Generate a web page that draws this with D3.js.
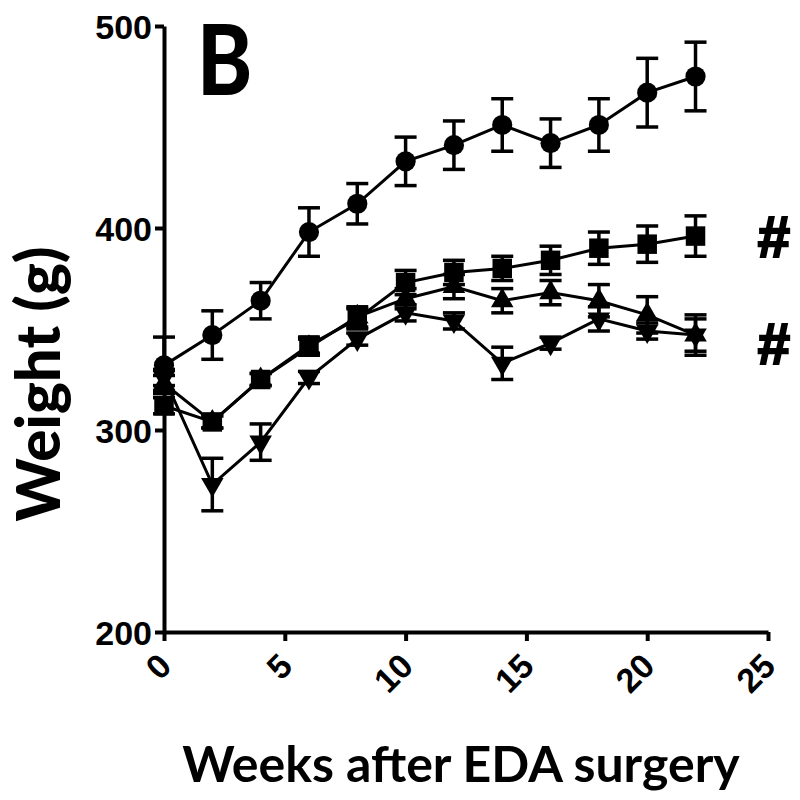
<!DOCTYPE html>
<html><head><meta charset="utf-8">
<script src="https://cdn.jsdelivr.net/npm/d3@7"></script>
<style>html,body{margin:0;padding:0;background:#fff}</style>
</head><body>
<svg id="chart" width="800" height="800"></svg>
<script>
const weeks = [0, 2, 4, 6, 8, 10, 12, 14, 16, 18, 20, 22];
const circleMean = [332, 347, 364, 398, 412, 433, 441, 451, 442, 451, 467, 475];
const circleSem  = [14, 12, 9, 12, 10, 12, 12, 13, 12, 13, 17, 17];
const squareMean = [312, 304, 325, 342, 355, 373, 378, 380, 384, 390, 392, 396];
const squareSem  = [4, 3, 3, 4, 5, 6, 6, 6, 7, 8, 9, 10];
const triUpMean  = [323, 304, 325, 341, 356, 365, 371, 364, 368, 364, 357, 347];
const triUpSem   = [4, 3, 3, 4, 5, 5, 6, 6, 6, 8, 9, 10];
const triDnMean  = [326, 273, 294, 326, 345, 358, 354, 333, 343, 355, 349, 347];
const triDnSem   = [4, 13, 9, 3, 3, 4, 4, 8, 3, 6, 4, 8];
const xTicks = [0, 5, 10, 15, 20, 25];
const yTicks = [200, 300, 400, 500];
const sigMarks = [{label: "#", y: 396}, {label: "#", y: 343}];

const series = [
  {mean: circleMean, sem: circleSem, symbol: d3.symbolCircle, size: 320},
  {mean: squareMean, sem: squareSem, symbol: d3.symbolSquare, size: 380},
  {mean: triUpMean, sem: triUpSem, symbol: d3.symbolTriangle, size: 220, rot: 0},
  {mean: triDnMean, sem: triDnSem, symbol: d3.symbolTriangle, size: 220, rot: 180}
];

const svg = d3.select("#chart");
const x = d3.scaleLinear().domain([0, 25]).range([164, 768]);
const y = d3.scaleLinear().domain([200, 500]).range([632, 26]);

// axes
const xAxis = svg.append("g").attr("transform", `translate(0,${y(200)})`)
  .call(d3.axisBottom(x).tickValues(xTicks).tickSize(9).tickSizeOuter(0));
const yAxis = svg.append("g").attr("transform", `translate(${x(0)},0)`)
  .call(d3.axisLeft(y).tickValues(yTicks).tickSize(9).tickSizeOuter(0));
[xAxis, yAxis].forEach(g => {
  g.select(".domain").attr("stroke", "#000").attr("stroke-width", 4);
  g.selectAll(".tick line").attr("stroke", "#000").attr("stroke-width", 4);
  g.selectAll("text").attr("font-family", "'Liberation Sans', Arial, sans-serif")
    .attr("font-weight", "bold").attr("font-size", 34).attr("fill", "#000");
});
yAxis.selectAll("text").attr("x", -12).attr("dy", "0.36em");
xAxis.selectAll("text")
  .attr("text-anchor", "end").attr("dy", 0).attr("y", 0)
  .attr("transform", "translate(9,36) rotate(-45)");

// series
series.forEach(s => {
  const pts = weeks.map((w, i) => ({x: w, m: s.mean[i], e: s.sem[i]}));
  const g = svg.append("g");
  const eb = g.selectAll(".eb").data(pts).enter().append("g");
  eb.append("line").attr("x1", d => x(d.x)).attr("x2", d => x(d.x))
    .attr("y1", d => y(d.m + d.e)).attr("y2", d => y(d.m - d.e))
    .attr("stroke", "#000").attr("stroke-width", 3.5);
  [1, -1].forEach(sg => {
    eb.append("line").attr("x1", d => x(d.x) - 11).attr("x2", d => x(d.x) + 11)
      .attr("y1", d => y(d.m + sg * d.e)).attr("y2", d => y(d.m + sg * d.e))
      .attr("stroke", "#000").attr("stroke-width", 3.5);
  });
  g.append("path").datum(pts)
    .attr("d", d3.line().x(d => x(d.x)).y(d => y(d.m)))
    .attr("fill", "none").attr("stroke", "#000").attr("stroke-width", 3);
  const sym = d3.symbol().type(s.symbol).size(s.size);
  g.selectAll(".mk").data(pts).enter().append("path")
    .attr("d", sym)
    .attr("transform", d => `translate(${x(d.x)},${y(d.m)})` + (s.rot ? ` rotate(${s.rot})` : ""))
    .attr("fill", "#000");
});

// significance marks
svg.selectAll(".sig").data(sigMarks).enter().append("text")
  .attr("x", 774).attr("y", d => y(d.y)).attr("dy", "0.36em")
  .attr("text-anchor", "middle")
  .attr("font-family", "'Liberation Sans', Arial, sans-serif")
  .attr("font-weight", "bold").attr("font-size", 58)
  .attr("stroke", "#000").attr("stroke-width", 2.2).text(d => d.label);

// panel letter
svg.append("text").attr("transform", "translate(197,95) scale(0.86,1)")
  .attr("font-family", "Lato, 'Open Sans', sans-serif").attr("font-weight", 900)
  .attr("font-size", 97).text("B");

// axis titles
svg.append("text").attr("transform", "translate(60,384) rotate(-90)")
  .attr("text-anchor", "middle")
  .attr("font-family", "Lato, 'Open Sans', sans-serif").attr("font-weight", 900)
  .attr("font-size", 60).text("Weight (g)");
svg.append("text").attr("x", 461).attr("y", 782)
  .attr("text-anchor", "middle")
  .attr("font-family", "Lato, 'Open Sans', sans-serif").attr("font-weight", "bold")
  .attr("font-size", 50).text("Weeks after EDA surgery");
</script>
</body></html>
